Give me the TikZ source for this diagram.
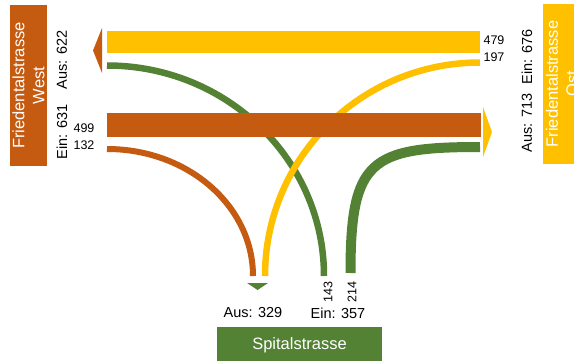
\documentclass[tikz,border=0pt]{standalone}
\usepackage{fontspec}
\setmainfont{Liberation Sans}
\definecolor{cOr}{HTML}{C55A11}
\definecolor{cYe}{HTML}{FFC000}
\definecolor{cGr}{HTML}{548235}
\begin{document}
\begin{tikzpicture}[x=1pt,y=-1pt,
  box/.style={inner sep=0pt,outer sep=0pt,text=white,align=center,font=\fontsize{16.5}{20}\selectfont},
  lab/.style={inner sep=0pt,font=\fontsize{14.5}{16}\selectfont},
  num/.style={inner sep=0pt,font=\fontsize{12.5}{14}\selectfont},
  flow/.style={line cap=butt}]
\useasboundingbox (0,0) rectangle (574,361);
% boxes
\fill[cOr] (10,5) rectangle (47,166);
\node[box,rotate=90] (west) at (28.5,85.5) {Friedentalstrasse\\West};
\fill[cYe] (543,4) rectangle (582,164);
\node[box,rotate=90] (ost) at (562,84) {Friedentalstrasse\\Ost};
\fill[cGr] (217,327) rectangle (382,365);
\node[box] (spital) at (299.5,345) {Spitalstrasse};
% coordinates
\coordinate (yL) at (107,42); \coordinate (yR) at (480,42);
\coordinate (oL) at (107,125); \coordinate (oR) at (481,125);
\coordinate (g1s) at (107,65.5); \coordinate (g1e) at (324,276);
\coordinate (y2s) at (480,62.5); \coordinate (y2e) at (265,276);
\coordinate (o2s) at (107,149); \coordinate (o2e) at (253,276);
\coordinate (g2s) at (480,147); \coordinate (g2e) at (350.5,273);
% bands
\draw[flow,cYe,line width=22pt] (yL) -- (yR);
\draw[flow,cGr,line width=6.5pt] (g1s) .. controls (227,65.5) and (324,160) .. (g1e);
\draw[flow,cYe,line width=6.5pt] (y2s) .. controls (361,62.5) and (265,158) .. (y2e);
\draw[flow,cOr,line width=24pt] (oL) -- (oR);
\draw[flow,cOr,line width=6pt] (o2s) .. controls (188,149) and (253,206) .. (o2e);
\draw[flow,cGr,line width=10pt] (g2s) .. controls (370,147) and (350.5,160) .. (g2e);
% arrowheads
\fill[cOr] (93,50.5) -- (102,28) -- (102,73) -- cycle;
\fill[cYe] (492,132) -- (483,107) -- (483,157) -- cycle;
\fill[cGr] (247,283) -- (268,283) -- (257.5,290) -- cycle;
% labels
\node[lab,rotate=90] (ausw) at (62,60) {Aus: 622};
\node[lab,rotate=90] (einw) at (62,132) {Ein: 631};
\node[num] (n499) at (84,128) {499};
\node[num] (n132) at (84,145) {132};
\node[num] (n479) at (494,40) {479};
\node[num] (n197) at (494,57) {197};
\node[lab,rotate=90] (eino) at (527,57) {Ein: 676};
\node[lab,rotate=90] (auso) at (527,123) {Aus: 713};
\node[lab] (auss) at (253,313) {Aus: 329};
\node[lab] (eins) at (338,313) {Ein: 357};
\node[num,rotate=90] (n143) at (328,292) {143};
\node[num,rotate=90] (n214) at (352,292) {214};
\end{tikzpicture}
\end{document}
